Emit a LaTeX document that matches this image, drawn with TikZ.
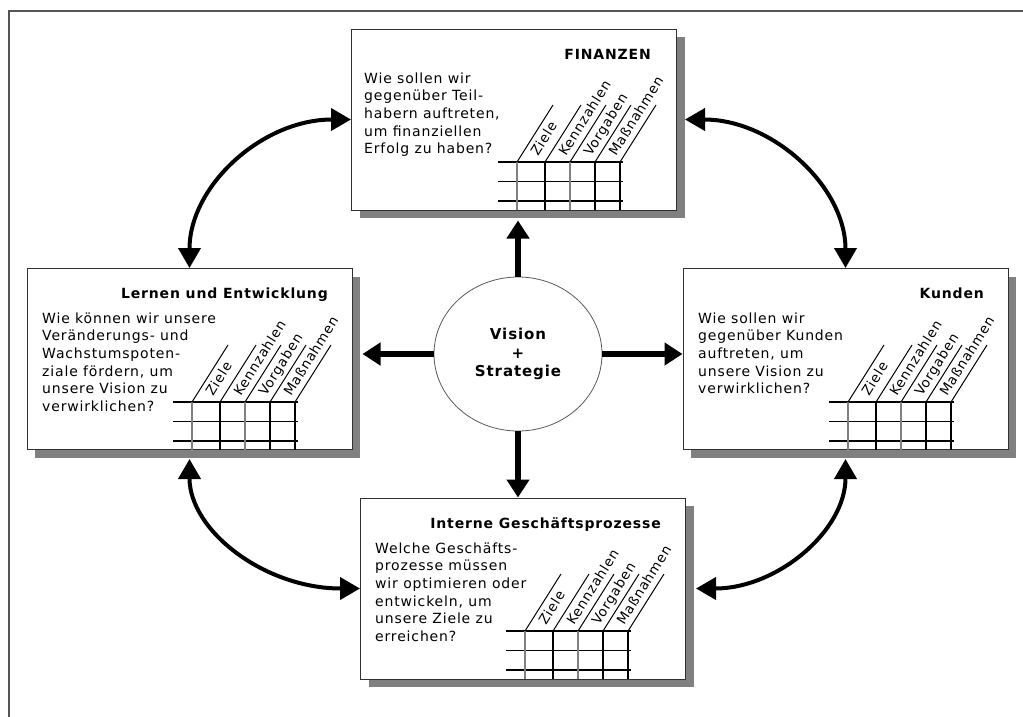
\documentclass[tikz,border=0pt]{standalone}
\usepackage{fontspec}
\setmainfont{DejaVu Sans}[LetterSpace=6]
\usetikzlibrary{arrows.meta,shapes.geometric,calc}
\definecolor{shadowgray}{HTML}{808080}
\definecolor{framegray}{HTML}{555555}
\definecolor{boxborder}{HTML}{303030}
\tikzset{
  bscbox/.style={rectangle, draw=boxborder, line width=1pt, fill=white,
    minimum width=325pt, minimum height=181pt, inner sep=0pt,
    preaction={fill=shadowgray, draw=none, transform canvas={xshift=8pt,yshift=-8pt}}},
  titletext/.style={font=\bfseries\fontsize{14}{17}\selectfont, inner sep=0pt, anchor=base east},
  bodytext/.style={font=\fontsize{14}{17.6}\selectfont, align=left, inner sep=0pt, anchor=north west},
  collabel/.style={font=\fontsize{13.5}{15}\selectfont, rotate=58, anchor=base west, inner sep=0pt},
  gridline/.style={line width=1.2pt, draw=black},
  bigarrow/.style={line width=6pt, -{Triangle[width=22pt,length=18pt]}},
  curvearrow/.style={line width=4pt, {Triangle[width=22pt,length=20pt]}-{Triangle[width=22pt,length=20pt]}},
  visionnode/.style={ellipse, draw=gray!70!black, line width=0.8pt, fill=white,
    minimum width=168pt, minimum height=154pt, inner sep=0pt, align=center,
    font=\bfseries\fontsize{15}{18.5}\selectfont}
}
\newcommand{\bscgrid}[3]{%
  \foreach \yy in {48,28.5,9} {\draw[gridline] (#1+146,#2-\yy) -- (#1+271,#2-\yy);}
  \foreach \vx/\vc in {165/gray,193/black,218/gray,243/black,268/black} {\draw[gridline,draw=\vc] (#1+\vx,#2-48) -- (#1+\vx,#2);}
  \foreach \vx in {165,193,218,243,268} {\draw[line width=1pt] (#1+\vx,#2-48) -- ++(36,-57);}
  \foreach \vx/\lab/\nm in {165/Ziele/z,193/Kennzahlen/k,218/Vorgaben/v,243/Maßnahmen/m} {\node[collabel] (#3\nm) at (#1+\vx+21,#2-53) {\lab};}
}
\begin{document}
\begin{tikzpicture}[x=1pt,y=-1pt]
\useasboundingbox (0,0) rectangle (1023,716);
\draw[framegray, line width=2pt] (9,717) -- (9,11) -- (1024,11);

% boxes
\node[bscbox] (fin)  at (514,119.5) {};
\node[bscbox] (lern) at (189.5,359) {};
\node[bscbox] (kund) at (845.5,359) {};
\node[bscbox] (proz) at (523,588.5) {};

% titles
\node[titletext] (finT)  at (651,59) {FINANZEN};
\node[titletext] (lernT) at (328,298) {Lernen und Entwicklung};
\node[titletext] (kundT) at (984,298) {Kunden};
\node[titletext] (prozT) at (661,528) {Interne Geschäftsprozesse};

% questions
\node[bodytext] (finQ) at (364,72.5) {Wie sollen wir\\gegenüber Teil-\\habern auftreten,\\um finanziellen\\Erfolg zu haben?};
\node[bodytext] (lernQ) at (42,312.5) {Wie können wir unsere\\Veränderungs- und\\Wachstumspoten-\\ziale fördern, um\\unsere Vision zu\\verwirklichen?};
\node[bodytext] (kundQ) at (698,312.5) {Wie sollen wir\\gegenüber Kunden\\auftreten, um\\unsere Vision zu\\verwirklichen?};
\node[bodytext] (prozQ) at (375,542.5) {Welche Geschäfts-\\prozesse müssen\\wir optimieren oder\\entwickeln, um\\unsere Ziele zu\\erreichen?};

% grids
\bscgrid{352}{210}{f}
\bscgrid{27}{450}{l}
\bscgrid{683}{450}{k}
\bscgrid{360}{679}{p}

% centre
\node[visionnode] (vision) at (518,354) {Vision\\+\\Strategie};

% straight arrows
\coordinate (finS) at ([yshift=-10pt]fin.south);
\coordinate (lernE) at ([xshift=10pt]lern.east);
\draw[bigarrow] (vision.north) -- (vision.north |- finS);
\draw[bigarrow] (vision.south) -- (vision.south |- proz.north);
\draw[bigarrow] (vision.west) -- (vision.west -| lernE);
\draw[bigarrow] (vision.east) -- (vision.east -| kund.west);

% curved arrows
\coordinate (finE) at ([xshift=8pt]fin.east);
\coordinate (lernS) at ([yshift=-9pt]lern.south);
\coordinate (prozE) at ([xshift=10pt]proz.east);
\coordinate (kundS) at ([yshift=-9pt]kund.south);
\draw[curvearrow] (lern.north) .. controls ($(lern.north)+(0,-82)$) and ($(fin.west)+(-89,0)$) .. (fin.west);
\draw[curvearrow] (finE) .. controls ($(finE)+(88,0)$) and ($(kund.north)+(0,-81)$) .. (kund.north);
\draw[curvearrow] (lernS) .. controls ($(lernS)+(0,72)$) and ($(proz.west)+(-95,0)$) .. (proz.west);
\draw[curvearrow] (prozE) .. controls ($(prozE)+(81,0)$) and ($(kundS)+(0,72)$) .. (kundS);
\end{tikzpicture}
\end{document}
